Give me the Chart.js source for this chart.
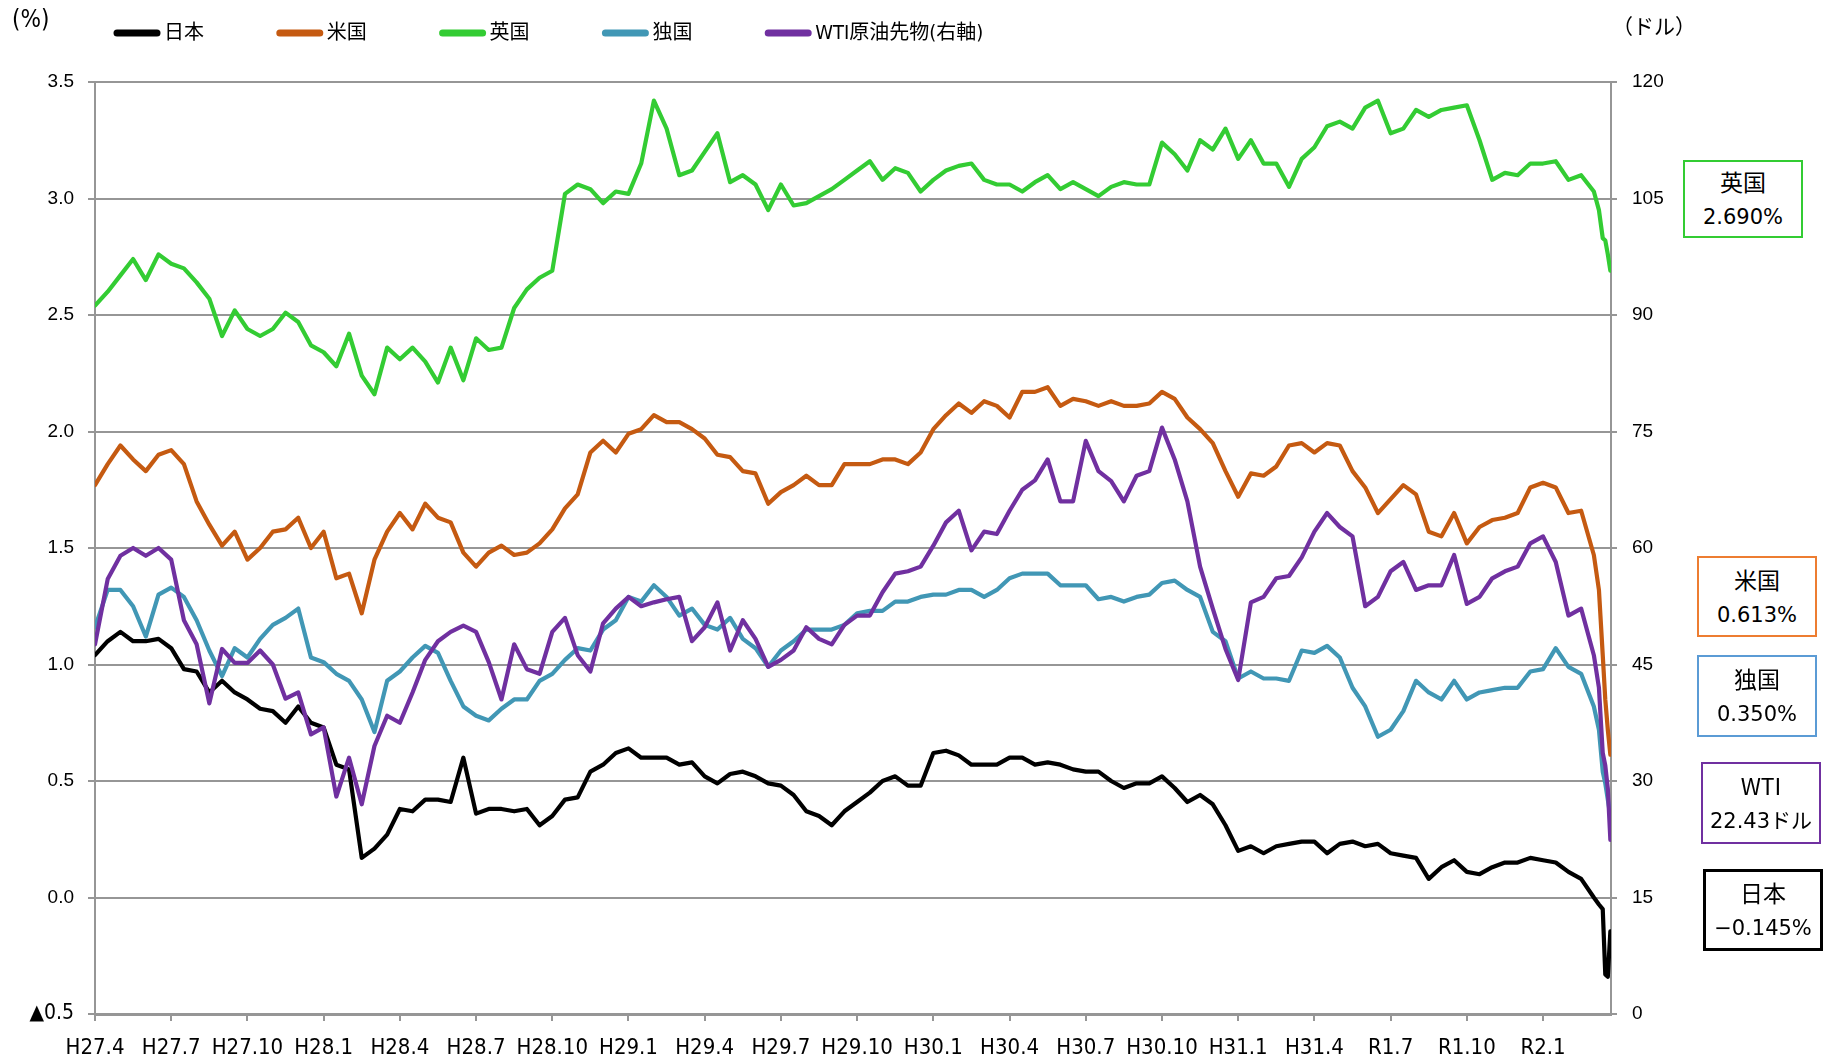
<!DOCTYPE html>
<html>
<head>
<meta charset="utf-8">
<script src="https://cdn.jsdelivr.net/npm/chart.js@4.4.1/dist/chart.umd.min.js"></script>
<style>
	body { margin: 0; background: #fff; }
	#wrap { position: relative; width: 1829px; height: 1063px; }
	.box {
		position: absolute; box-sizing: border-box; border: 2px solid #000; background: #fff;
		display: flex; flex-direction: column; justify-content: center; align-items: center;
		font-family: "DejaVu Sans", "Noto Sans CJK JP", sans-serif; font-size: 21px; line-height: 36px; color: #000;
	}
	.box .name { font-family: "Noto Sans CJK JP", sans-serif; font-size: 23px; }
</style>
</head>
<body>
<div id="wrap">
	<canvas id="mycanvas" width="1829" height="1063"></canvas>
</div>
<script>
// time of each sample, in half-months from H27.4 (Apr 2015); denser at the end
var halfMonth = [];
for (var i = 0; i <= 118; i++) halfMonth.push(i);
halfMonth.push(118.4, 118.7, 118.9, 119.1, 119.3);

var xTickLabels = ['H27.4', 'H27.7', 'H27.10', 'H28.1', 'H28.4', 'H28.7', 'H28.10', 'H29.1', 'H29.4', 'H29.7',
	'H29.10', 'H30.1', 'H30.4', 'H30.7', 'H30.10', 'H31.1', 'H31.4', 'R1.7', 'R1.10', 'R2.1'];

var seriesNames = ['日本', '米国', '英国', '独国', 'WTI原油先物(右軸)'];

// 10年国債利回り (%)
var japan = [1.04, 1.10, 1.14, 1.10, 1.10, 1.11, 1.07, 0.98, 0.97, 0.88,
	0.93, 0.88, 0.85, 0.81, 0.80, 0.75, 0.82, 0.75, 0.73, 0.57,
	0.55, 0.17, 0.21, 0.27, 0.38, 0.37, 0.42, 0.42, 0.41, 0.60,
	0.36, 0.38, 0.38, 0.37, 0.38, 0.31, 0.35, 0.42, 0.43, 0.54,
	0.57, 0.62, 0.64, 0.60, 0.60, 0.60, 0.57, 0.58, 0.52, 0.49,
	0.53, 0.54, 0.52, 0.49, 0.48, 0.44, 0.37, 0.35, 0.31, 0.37,
	0.41, 0.45, 0.50, 0.52, 0.48, 0.48, 0.62, 0.63, 0.61, 0.57,
	0.57, 0.57, 0.60, 0.60, 0.57, 0.58, 0.57, 0.55, 0.54, 0.54,
	0.50, 0.47, 0.49, 0.49, 0.52, 0.47, 0.41, 0.44, 0.40, 0.31,
	0.20, 0.22, 0.19, 0.22, 0.23, 0.24, 0.24, 0.19, 0.23, 0.24,
	0.22, 0.23, 0.19, 0.18, 0.17, 0.08, 0.13, 0.16, 0.11, 0.10,
	0.13, 0.15, 0.15, 0.17, 0.16, 0.15, 0.11, 0.08, 0.00,
	-0.03, -0.05, -0.33, -0.34, -0.145];

var usa = [1.77, 1.86, 1.94, 1.88, 1.83, 1.90, 1.92, 1.86, 1.70, 1.60,
	1.51, 1.57, 1.45, 1.50, 1.57, 1.58, 1.63, 1.50, 1.57, 1.37,
	1.39, 1.22, 1.45, 1.57, 1.65, 1.58, 1.69, 1.63, 1.61, 1.48,
	1.42, 1.48, 1.51, 1.47, 1.48, 1.52, 1.58, 1.67, 1.73, 1.91,
	1.96, 1.91, 1.99, 2.01, 2.07, 2.04, 2.04, 2.01, 1.97, 1.90,
	1.89, 1.83, 1.82, 1.69, 1.74, 1.77, 1.81, 1.77, 1.77, 1.86,
	1.86, 1.86, 1.88, 1.88, 1.86, 1.91, 2.01, 2.07, 2.12, 2.08,
	2.13, 2.11, 2.06, 2.17, 2.17, 2.19, 2.11, 2.14, 2.13, 2.11,
	2.13, 2.11, 2.11, 2.12, 2.17, 2.14, 2.06, 2.01, 1.95, 1.83,
	1.72, 1.82, 1.81, 1.85, 1.94, 1.95, 1.91, 1.95, 1.94, 1.83,
	1.76, 1.65, 1.71, 1.77, 1.73, 1.57, 1.55, 1.65, 1.52, 1.59,
	1.62, 1.63, 1.65, 1.76, 1.78, 1.76, 1.65, 1.66, 1.47,
	1.32, 1.04, 0.85, 0.72, 0.613];

var uk = [2.54, 2.60, 2.67, 2.74, 2.65, 2.76, 2.72, 2.70, 2.64, 2.57,
	2.41, 2.52, 2.44, 2.41, 2.44, 2.51, 2.47, 2.37, 2.34, 2.28,
	2.42, 2.24, 2.16, 2.36, 2.31, 2.36, 2.30, 2.21, 2.36, 2.22,
	2.40, 2.35, 2.36, 2.53, 2.61, 2.66, 2.69, 3.02, 3.06, 3.04,
	2.98, 3.03, 3.02, 3.15, 3.42, 3.30, 3.10, 3.12, 3.20, 3.28,
	3.07, 3.10, 3.06, 2.95, 3.06, 2.97, 2.98, 3.01, 3.04, 3.08,
	3.12, 3.16, 3.08, 3.13, 3.11, 3.03, 3.08, 3.12, 3.14, 3.15,
	3.08, 3.06, 3.06, 3.03, 3.07, 3.10, 3.04, 3.07, 3.04, 3.01,
	3.05, 3.07, 3.06, 3.06, 3.24, 3.19, 3.12, 3.25, 3.21, 3.30,
	3.17, 3.25, 3.15, 3.15, 3.05, 3.17, 3.22, 3.31, 3.33, 3.30,
	3.39, 3.42, 3.28, 3.30, 3.38, 3.35, 3.38, 3.39, 3.40, 3.25,
	3.08, 3.11, 3.10, 3.15, 3.15, 3.16, 3.08, 3.10, 3.03,
	2.95, 2.83, 2.82, 2.76, 2.69];

var germany = [1.16, 1.32, 1.32, 1.25, 1.12, 1.30, 1.33, 1.29, 1.19, 1.06,
	0.95, 1.07, 1.03, 1.11, 1.17, 1.20, 1.24, 1.03, 1.01, 0.96,
	0.93, 0.85, 0.71, 0.93, 0.97, 1.03, 1.08, 1.05, 0.93, 0.82,
	0.78, 0.76, 0.81, 0.85, 0.85, 0.93, 0.96, 1.02, 1.07, 1.06,
	1.15, 1.19, 1.29, 1.27, 1.34, 1.29, 1.21, 1.24, 1.17, 1.15,
	1.20, 1.11, 1.07, 0.99, 1.06, 1.10, 1.15, 1.15, 1.15, 1.17,
	1.22, 1.23, 1.23, 1.27, 1.27, 1.29, 1.30, 1.30, 1.32, 1.32,
	1.29, 1.32, 1.37, 1.39, 1.39, 1.39, 1.34, 1.34, 1.34, 1.28,
	1.29, 1.27, 1.29, 1.30, 1.35, 1.36, 1.32, 1.29, 1.14, 1.10,
	0.94, 0.97, 0.94, 0.94, 0.93, 1.06, 1.05, 1.08, 1.03, 0.90,
	0.82, 0.69, 0.72, 0.80, 0.93, 0.88, 0.85, 0.93, 0.85, 0.88,
	0.89, 0.90, 0.90, 0.97, 0.98, 1.07, 0.99, 0.96, 0.82,
	0.72, 0.54, 0.49, 0.42, 0.35];

// WTI原油先物 (ドル)
var wti = [47.6, 56, 59, 60, 59, 60, 58.5, 50.7, 47.6, 40,
	47, 45.2, 45.2, 46.8, 45, 40.6, 41.4, 36, 36.9, 28,
	33, 27, 34.5, 38.4, 37.5, 41.4, 45.6, 48, 49.2, 50,
	49.2, 45.3, 40.5, 47.6, 44.4, 43.8, 49.2, 51, 46.2, 44.1,
	50.3, 52.2, 53.7, 52.5, 53, 53.4, 53.7, 48, 49.8, 53,
	46.8, 50.7, 48.3, 44.7, 45.6, 46.8, 49.8, 48.3, 47.6, 50.1,
	51.3, 51.3, 54.3, 56.7, 57, 57.6, 60.3, 63.3, 64.8, 59.7,
	62.1, 61.8, 64.8, 67.5, 68.7, 71.4, 66, 66, 73.8, 69.9,
	68.6, 66, 69.3, 69.9, 75.5, 71.4, 66, 57.6, 52.2, 47,
	43, 53, 53.7, 56.1, 56.4, 58.8, 62.1, 64.5, 62.7, 61.5,
	52.5, 53.7, 57, 58.2, 54.6, 55.2, 55.2, 59.1, 52.8, 53.7,
	56.1, 57, 57.6, 60.6, 61.5, 58.2, 51.3, 52.2, 46.2,
	42, 33.6, 32, 29, 22.43];

// latest values shown in the boxes on the right
var latestNames = ['英国', '米国', '独国', 'WTI', '日本'];
var latestTexts = ['2.690%', '0.613%', '0.350%', '22.43ドル', '−0.145%'];

var colors = ['#000000', '#C55A11', '#33CC33', '#4197B5', '#7030A0'];
var boxStyle = [
	{ left: 1683, top: 160, width: 120, height: 78, color: '#33CC33', border: 2 },
	{ left: 1697, top: 556, width: 120, height: 81, color: '#ED7D31', border: 2 },
	{ left: 1697, top: 655, width: 120, height: 82, color: '#5B9BD5', border: 2 },
	{ left: 1701, top: 762, width: 120, height: 82, color: '#7030A0', border: 2 },
	{ left: 1703, top: 869, width: 120, height: 82, color: '#000000', border: 3 }
];

function points(vals) {
	return vals.map(function(v, k) { return { x: halfMonth[k], y: v }; });
}

// pick a condensed face that is actually installed
function hasFont(name) {
	var c = document.createElement('canvas').getContext('2d');
	var probe = 'H27.10 WTIwmil';
	c.font = '30px monospace';
	var a = c.measureText(probe).width;
	c.font = '30px "' + name + '", monospace';
	return c.measureText(probe).width !== a;
}
var narrowName = ['Liberation Sans Narrow', 'DejaVu Sans Condensed', 'Arial Narrow'].filter(hasFont)[0];
var narrowFamily = narrowName ? '"' + narrowName + '", "Noto Sans CJK JP", sans-serif' : '"Liberation Sans", "Noto Sans CJK JP", sans-serif';
var narrowSize = narrowName === 'DejaVu Sans Condensed' ? 22 : 23;

var wrap = document.getElementById('wrap');
for (var b = 0; b < boxStyle.length; b++) {
	var s = boxStyle[b];
	var d = document.createElement('div');
	d.className = 'box';
	d.style.left = s.left + 'px';
	d.style.top = s.top + 'px';
	d.style.width = s.width + 'px';
	d.style.height = s.height + 'px';
	d.style.borderColor = s.color;
	d.style.borderWidth = s.border + 'px';
	d.innerHTML = '<span class="name">' + latestNames[b] + '</span><span>' + latestTexts[b] + '</span>';
	wrap.appendChild(d);
}

var gridGray = '#969696';
var tickFont = { family: '"Liberation Sans", Arial, sans-serif', size: 19 };
var xFont = { family: narrowFamily, size: narrowSize };

// legend and axis unit titles
var decorations = {
	id: 'decorations',
	afterDraw: function(chart) {
		var ctx = chart.ctx;
		ctx.save();
		chart.data.datasets.forEach(function(ds, k) {
			var x = 114 + k * 162.8, y = 33;
			ctx.strokeStyle = ds.borderColor;
			ctx.lineWidth = 7;
			ctx.lineCap = 'round';
			ctx.beginPath();
			ctx.moveTo(x + 3, y);
			ctx.lineTo(x + 43, y);
			ctx.stroke();
			ctx.fillStyle = '#000';
			ctx.font = '20px ' + narrowFamily;
			ctx.textBaseline = 'middle';
			ctx.fillText(ds.label, x + 50, y + 1);
		});
		ctx.textBaseline = 'middle';
		ctx.font = '24px ' + narrowFamily;
		ctx.fillText('(%)', 12, 21);
		ctx.font = '21px "Noto Sans CJK JP", sans-serif';
		ctx.fillText('（ドル）', 1612, 26);
		ctx.restore();
	}
};

var sets = [japan, usa, uk, germany, wti];
var datasets = sets.map(function(vals, k) {
	return {
		label: seriesNames[k],
		data: points(vals),
		borderColor: colors[k],
		backgroundColor: colors[k],
		borderWidth: 4.2,
		pointRadius: 0,
		tension: 0,
		borderJoinStyle: 'round',
		borderCapStyle: 'round',
		yAxisID: k === 4 ? 'y1' : 'y',
		order: k === 4 ? -1 : k
	};
});

var ctx = document.getElementById('mycanvas');
var chart = new Chart(ctx, {
	type: 'line',
	data: { datasets: datasets },
	options: {
		responsive: false,
		animation: false,
		layout: { padding: { top: 82, left: 0, right: 0, bottom: 0 } },
		plugins: { legend: { display: false }, tooltip: { enabled: false } },
		scales: {
			x: {
				type: 'linear',
				min: 0,
				max: 119.35,
				afterFit: function(s) { s.height = 49; },
				border: { display: true, color: gridGray, width: 3 },
				grid: { drawOnChartArea: false, drawTicks: true, tickLength: 7, color: gridGray, lineWidth: 2 },
				ticks: {
					stepSize: 6,
					includeBounds: false,
					autoSkip: false,
					maxRotation: 0,
					padding: 14,
					color: '#000',
					font: xFont,
					callback: function(v) { return xTickLabels[Math.round(v / 6)]; }
				}
			},
			y: {
				position: 'left',
				min: -0.5,
				max: 3.5,
				afterFit: function(s) { s.width = 95; },
				border: { display: true, color: gridGray, width: 2 },
				grid: { color: gridGray, lineWidth: 2, tickLength: 7 },
				ticks: {
					stepSize: 0.5,
					padding: 14,
					color: '#000',
					font: function(c) {
						return c.tick && c.tick.value < 0 ? { family: xFont.family, size: 21 } : tickFont;
					},
					callback: function(v) { return v < 0 ? '▲' + (-v).toFixed(1) : v.toFixed(1); }
				}
			},
			y1: {
				position: 'right',
				min: 0,
				max: 120,
				afterFit: function(s) { s.width = 218; },
				border: { display: true, color: gridGray, width: 2 },
				grid: { drawOnChartArea: false, color: gridGray, lineWidth: 2, tickLength: 6 },
				ticks: { stepSize: 15, padding: 15, color: '#000', font: tickFont }
			}
		}
	},
	plugins: [decorations]
});
</script>
</body>
</html>
